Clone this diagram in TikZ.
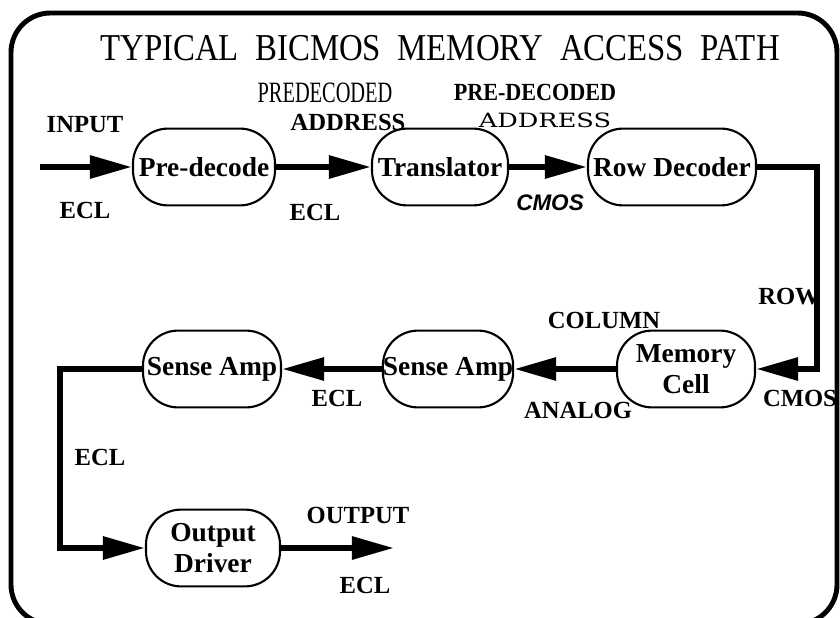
\documentclass[tikz,border=0pt]{standalone}
\usepackage{fontspec}
\usepackage{graphicx}
\setmainfont{Liberation Serif}
\newfontfamily\widefont{DejaVu Serif}
\newfontfamily\arialfont{Liberation Sans}
\usetikzlibrary{arrows.meta}
\newcommand\nar[2]{\scalebox{#1}[1]{#2}}

\tikzset{
  blk/.style={draw, line width=1.5pt, rounded corners=25pt, minimum height=1.92cm,
    inner sep=0pt, align=center, font=\fontsize{19.5}{22}\selectfont\bfseries},
  lbl/.style={font=\fontsize{17.5}{19}\selectfont\bfseries},
  wire/.style={line width=4.3pt},
  flow/.style={wire, -{Triangle[length=1.05cm,width=0.55cm]}},
}

\begin{document}
\begin{tikzpicture}[x=0.025cm, y=-0.025cm]
  \useasboundingbox (0,0) rectangle (840,617);
  % frame and title
  \draw[line width=3.5pt, rounded corners=28pt] (11,13) rectangle (837,624);
  \node[font=\fontsize{27}{30}\selectfont] (title) at (440,48)
    {\nar{0.865}{TYPICAL\ \ BICMOS\ \ MEMORY\ \ ACCESS\ \ PATH}};

  % blocks
  \node[blk, minimum width=3.55cm] (pre) at (204,167) {Pre-decode};
  \node[blk, minimum width=3.4cm] (trans) at (440,167) {Translator};
  \node[blk, minimum width=4.2cm] (rowdec) at (672,167) {Row Decoder};
  \node[blk, minimum width=3.45cm] (mem) at (686,369) {Memory\\Cell};
  \node[blk, minimum width=3.2cm] (sa2) at (448,369) {Sense Amp};
  \node[blk, minimum width=3.45cm] (sa1) at (212,369) {Sense Amp};
  \node[blk, minimum width=3.35cm] (drv) at (213,548) {Output\\Driver};

  % corners of the path
  \coordinate (in) at (40,167);
  \coordinate (rc) at (817,167);
  \coordinate (mc) at (817,369);
  \coordinate (lc) at (60,369);
  \coordinate (dc) at (60,548);
  \coordinate (out) at (394,548);

  % connectors
  \draw[flow] (in) -- (pre);
  \draw[flow] (pre) -- (trans);
  \draw[flow] (trans) -- (rowdec);
  \draw[flow] (rowdec.east) -- (rc) -- (mc) -- (mem.east);
  \draw[flow] (mem) -- (sa2);
  \draw[flow] (sa2) -- (sa1);
  \draw[flow] (sa1.west) -- (lc) -- (dc) -- (drv.west);
  \draw[flow] (drv) -- (out);

  % signal labels
  \node[lbl] (inlbl) at (85,125) {INPUT};
  \node[lbl] (inecl) at (85,210) {ECL};
  \node[font=\fontsize{21}{23}\selectfont] (pdc1) at (325,93) {\nar{0.69}{PREDECODED}};
  \node[lbl] (adr1) at (348,122) {ADDRESS};
  \node[lbl] (ecl1) at (315,212) {ECL};
  \node[lbl] (pdc2) at (535,92) {\nar{0.9}{PRE-DECODED}};
  \node[font=\fontsize{14}{16}\selectfont\widefont] (adr2) at (545,120) {\nar{1.3}{ADDRESS}};
  \node[font=\fontsize{16}{18}\selectfont\arialfont\bfseries\itshape] (cmos1) at (550,203) {CMOS};
  \node[lbl] (row) at (789,297) {ROW};
  \node[lbl] (cmos2) at (800,398) {CMOS};
  \node[lbl] (col) at (604,320) {COLUMN};
  \node[lbl] (anlg) at (578,410) {ANALOG};
  \node[lbl] (ecl2) at (337,398) {ECL};
  \node[lbl] (ecl3) at (100,457) {ECL};
  \node[lbl] (outlbl) at (358,515) {OUTPUT};
  \node[lbl] (ecl4) at (365,585) {ECL};
\end{tikzpicture}
\end{document}
